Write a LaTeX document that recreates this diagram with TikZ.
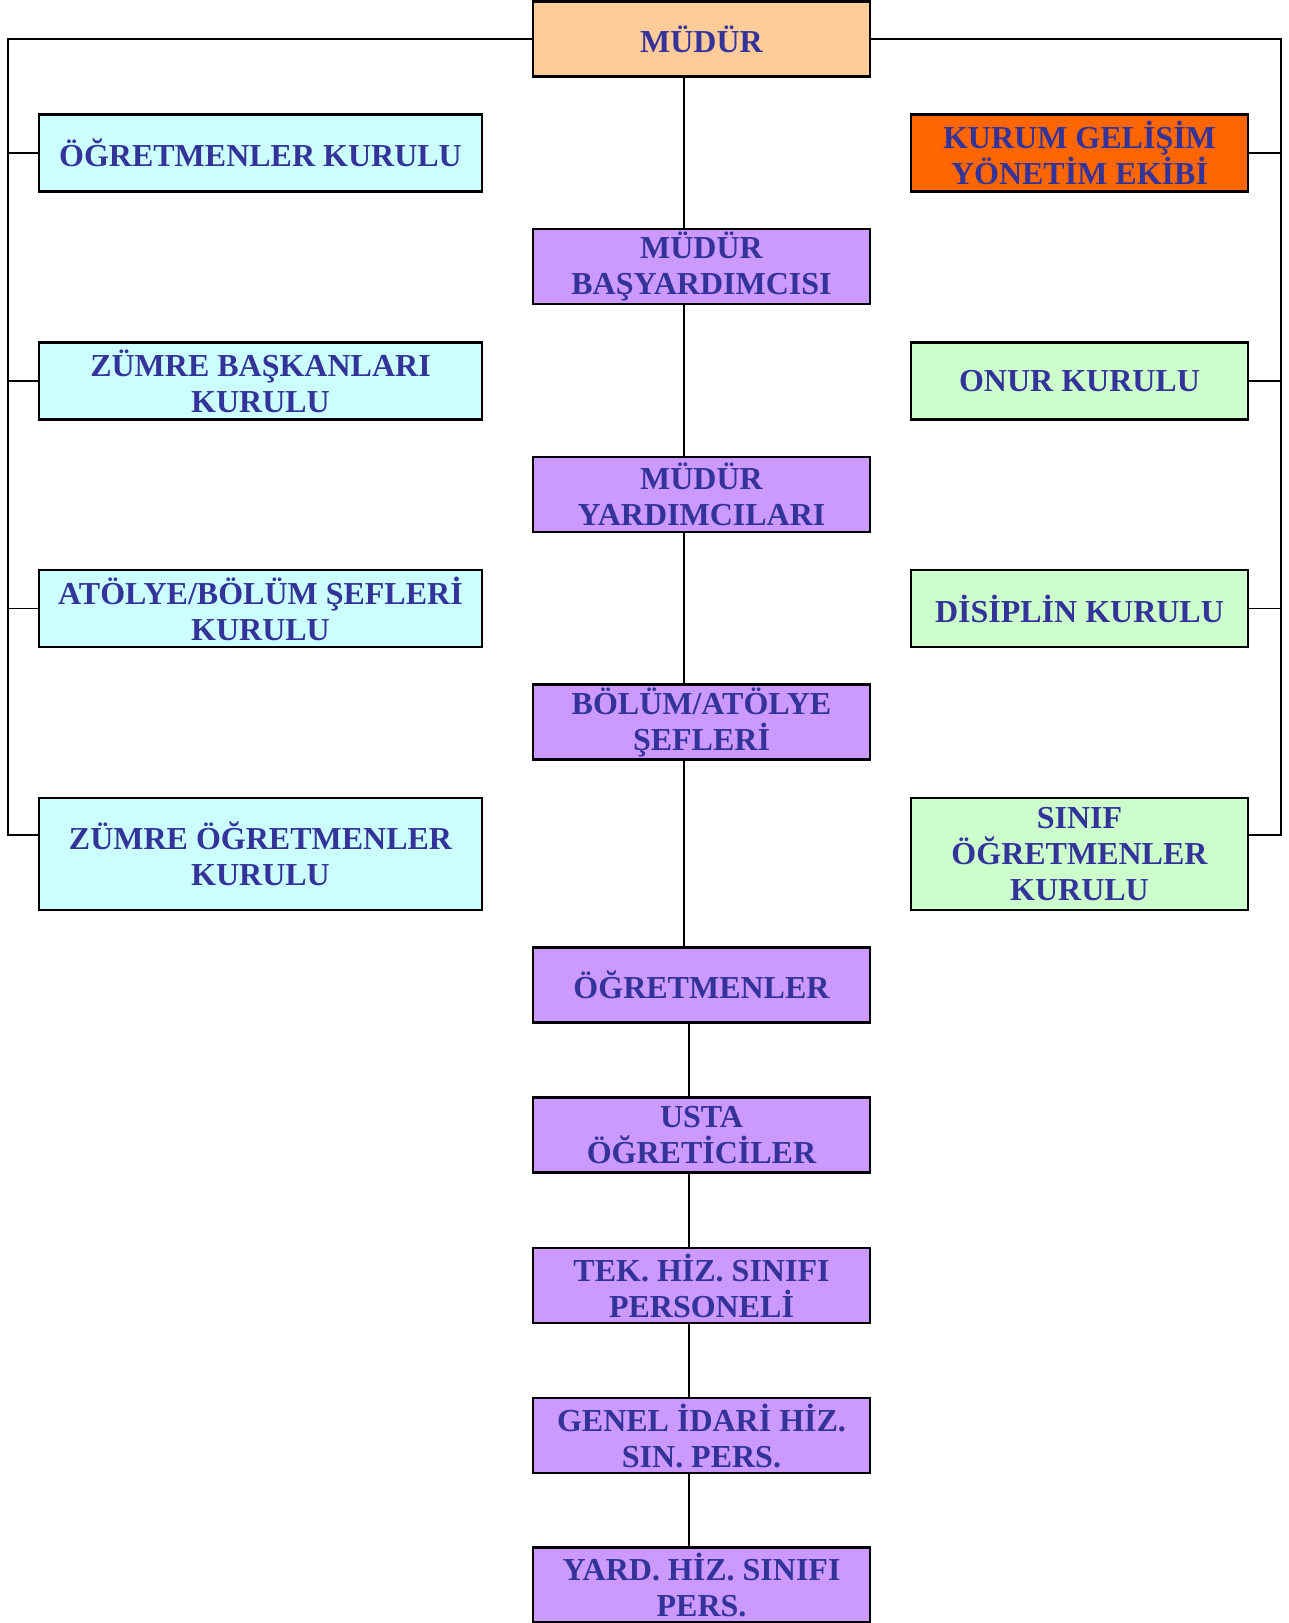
\documentclass[tikz,border=0pt]{standalone}
\usepackage{fontspec}
\setmainfont{Liberation Serif}
\usepackage{tikz}
\usepackage{xcolor}

\definecolor{yazi}{RGB}{51,51,153}
\definecolor{turuncu}{RGB}{255,204,153}
\definecolor{camgobegi}{RGB}{204,255,255}
\definecolor{mor}{RGB}{204,153,255}
\definecolor{yesil}{RGB}{204,255,204}
\definecolor{kirmizi}{RGB}{255,102,0}

\begin{document}
\begin{tikzpicture}[x=0.5pt, y=-0.5pt,
        kutu/.style = {draw, line width=1.2pt, align=center, text=yazi,
            font=\fontsize{16}{18}\selectfont\bfseries, inner sep=1pt},
        orta/.style = {kutu, fill=mor, minimum width=168.5pt, minimum height=37.5pt},
        sol/.style = {kutu, fill=camgobegi, minimum width=221.5pt, minimum height=38.5pt},
        sag/.style = {kutu, fill=yesil, minimum width=168.5pt, minimum height=38.5pt},
        hat/.style = {line width=0.9pt}]
        \useasboundingbox (0,0) rectangle (1289,1623);

        % orta sutun
        \node[orta, fill=turuncu] (mudur) at (701.5,39) {MÜDÜR};
        \node[orta] (basyard) at (701.5,266.5) {MÜDÜR\\BAŞYARDIMCISI};
        \node[orta] (yard) at (701.5,494.5) {MÜDÜR\\YARDIMCILARI};
        \node[orta] (sefler) at (701.5,722) {BÖLÜM/ATÖLYE\\ŞEFLERİ};
        \node[orta] (ogret) at (701.5,985) {ÖĞRETMENLER};
        \node[orta] (usta) at (701.5,1135) {USTA\\ÖĞRETİCİLER};
        \node[orta] (tek) at (701.5,1285.5) {TEK. HİZ. SINIFI\\PERSONELİ};
        \node[orta] (genel) at (701.5,1435.5) {GENEL İDARİ HİZ.\\SIN. PERS.};
        \node[orta] (yardhiz) at (701.5,1585) {YARD. HİZ. SINIFI\\PERS.};

        % sol sutun
        \node[sol] (okurul) at (260.5,153) {ÖĞRETMENLER KURULU};
        \node[sol] (zbkurul) at (260.5,381) {ZÜMRE BAŞKANLARI\\KURULU};
        \node[sol] (abkurul) at (260.5,608.5) {ATÖLYE/BÖLÜM ŞEFLERİ\\KURULU};
        \node[sol, minimum height=56pt] (zokurul) at (260.5,854) {ZÜMRE ÖĞRETMENLER\\KURULU};

        % sag sutun
        \node[sag, fill=kirmizi] (kurum) at (1079.5,153) {KURUM GELİŞİM\\YÖNETİM EKİBİ};
        \node[sag] (onur) at (1079.5,381) {ONUR KURULU};
        \node[sag] (disiplin) at (1079.5,608.5) {DİSİPLİN KURULU};
        \node[sag, minimum height=56pt] (sokurul) at (1079.5,854) {SINIF\\ÖĞRETMENLER\\KURULU};

        % baglantilar
        \coordinate (omurga) at (684,0);
        \coordinate (omurga2) at (689,0);
        \draw[hat] (mudur.south -| omurga) -- (basyard.north -| omurga);
        \draw[hat] (basyard.south -| omurga) -- (yard.north -| omurga);
        \draw[hat] (yard.south -| omurga) -- (sefler.north -| omurga);
        \draw[hat] (sefler.south -| omurga) -- (ogret.north -| omurga);
        \draw[hat] (ogret.south -| omurga2) -- (usta.north -| omurga2);
        \draw[hat] (usta.south -| omurga2) -- (tek.north -| omurga2);
        \draw[hat] (tek.south -| omurga2) -- (genel.north -| omurga2);
        \draw[hat] (genel.south -| omurga2) -- (yardhiz.north -| omurga2);

        \coordinate (solust) at (8,39);
        \coordinate (solalt) at (8,835);
        \draw[hat] (mudur.west) -- (solust) -- (solalt) -- (zokurul.west |- solalt);
        \foreach \n in {okurul,zbkurul,abkurul}
            \draw[hat] (\n.west) -- (\n.west -| solust);

        \coordinate (sagust) at (1281,39);
        \coordinate (sagalt) at (1281,835);
        \draw[hat] (mudur.east) -- (sagust) -- (sagalt) -- (sokurul.east |- sagalt);
        \foreach \n in {kurum,onur,disiplin}
            \draw[hat] (\n.east) -- (\n.east -| sagust);
    \end{tikzpicture}
\end{document}
